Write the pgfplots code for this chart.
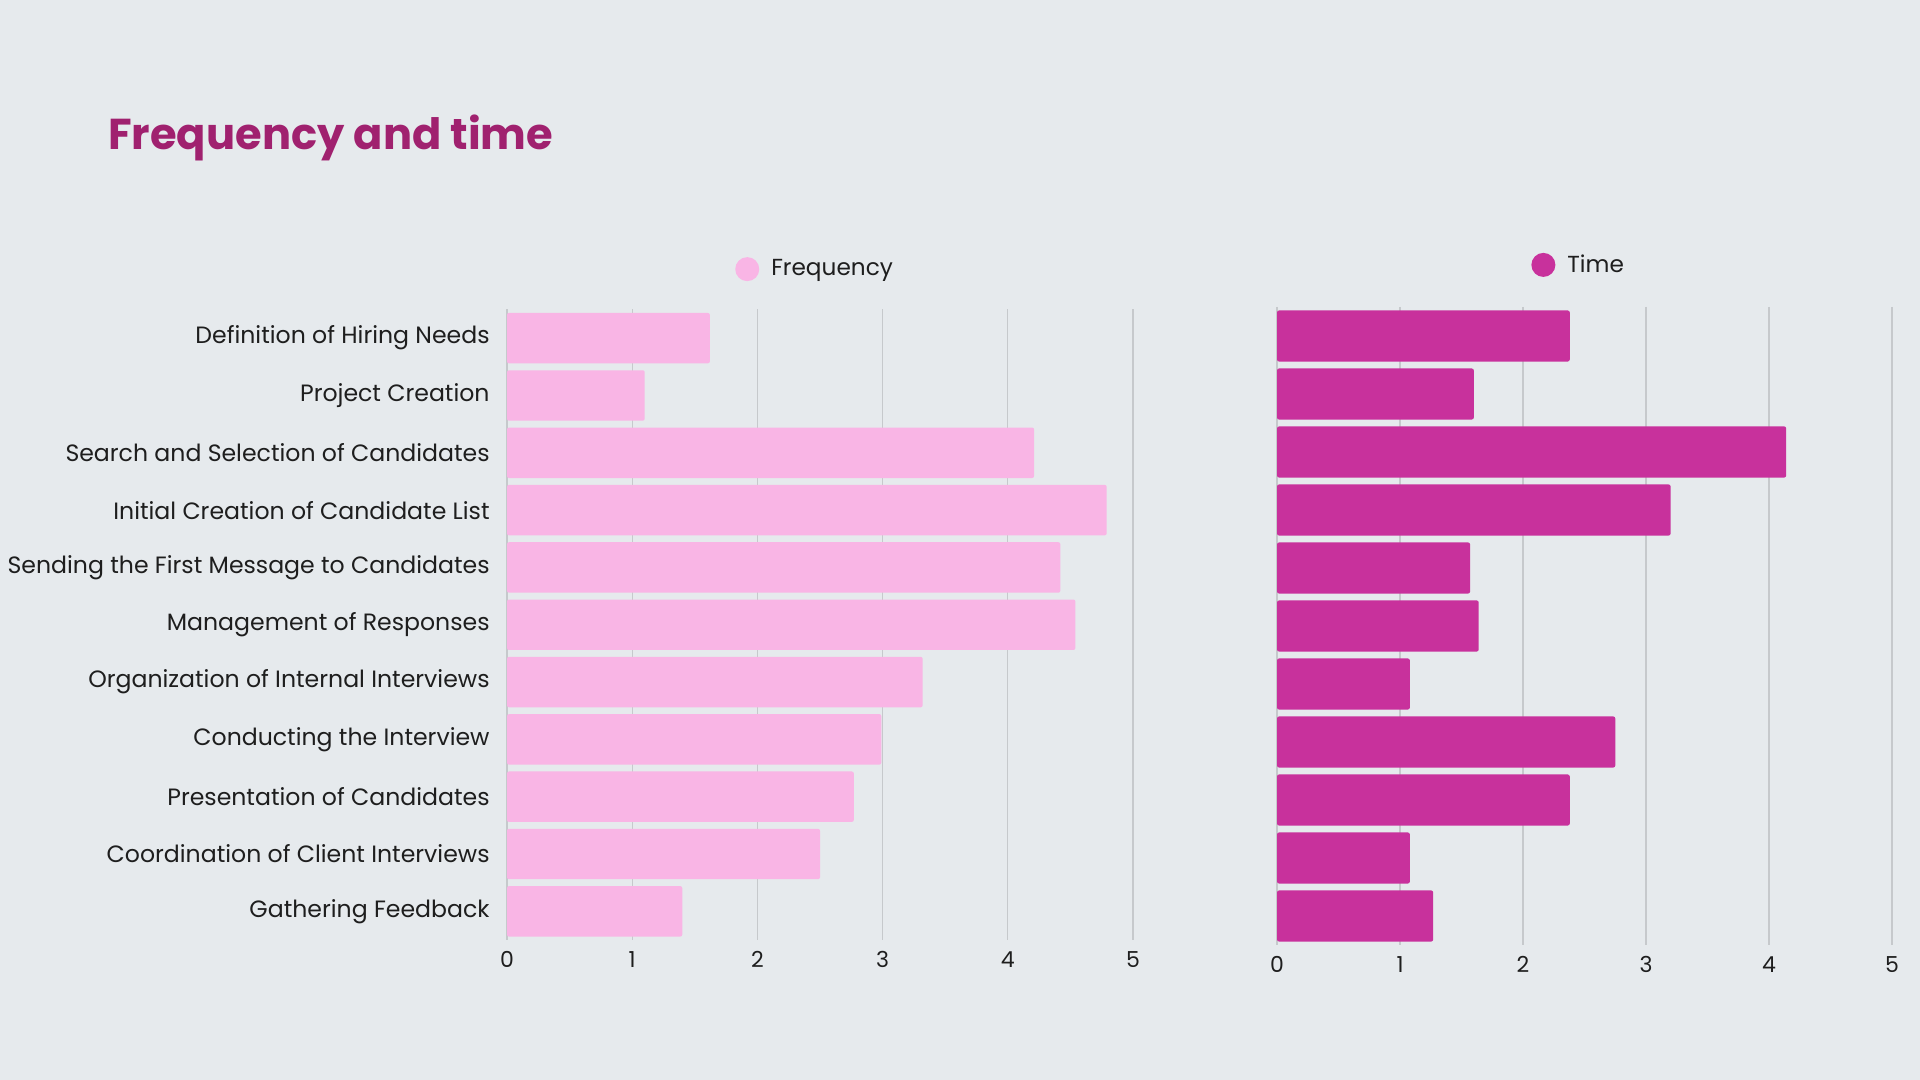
\documentclass[border=0pt]{standalone}
\usepackage{fontspec}
\setmainfont{Poppins}
\usepackage{pgfplots}
\pgfplotsset{compat=1.18}
\definecolor{bg}{HTML}{E6EAED}
\definecolor{freqpink}{HTML}{F9B5E5}
\definecolor{timemag}{HTML}{C8319C}
\definecolor{titlecol}{HTML}{A0216F}
\definecolor{txt}{HTML}{1E1E1E}
\definecolor{gridc}{HTML}{C6C9CC}

\pgfplotsset{
  hbars/.style={
    xbar,
    scale only axis,
    y dir=reverse,
    ymin=-0.5, ymax=10.5,
    xmin=0, xmax=5,
    xtick={0,...,5},
    ytick={0,...,10},
    bar width=0.88,
    axis line style={draw=none},
    major tick length=0,
    xmajorgrids,
    grid style={gridc, line width=0.6pt},
    tick label style={font=\fontsize{11}{13}\selectfont, text=txt},
    /pgf/number format/assume math mode=true,
    xticklabel style={anchor=base, yshift=-13.75pt},
    clip=false,
    legend style={draw=none, fill=none, inner sep=0pt, column sep=6pt,
      font=\fontsize{11.6}{14}\selectfont, text=txt, nodes={inner sep=0pt}},
    legend image code/.code={\fill[##1] (0pt,0pt) circle (6pt);},
    every axis plot/.append style={draw=none, rounded corners=1pt},
  }
}

\begin{document}
\begin{tikzpicture}
\fill[bg] (0,0) rectangle (960pt,540pt);
\node[anchor=base west, font=\bfseries\fontsize{21.6}{26}\selectfont, text=titlecol]
  at (50.6pt,465.3pt) {Frequency and time};

% frequency
\begin{axis}[hbars,
  at={(253.5pt,70pt)}, anchor=south west,
  width=313pt, height=315.25pt,
  yticklabel style={anchor=east, inner sep=0pt, xshift=-8.5pt,
    font=\fontsize{11.8}{14}\selectfont},
  yticklabels={Definition of Hiring Needs, Project Creation,
    Search and Selection of Candidates, Initial Creation of Candidate List,
    Sending the First Message to Candidates, Management of Responses,
    Organization of Internal Interviews, Conducting the Interview,
    Presentation of Candidates, Coordination of Client Interviews,
    Gathering Feedback},
  legend style={at={(0.364,1.064)}, anchor=west},
]
\addplot[fill=freqpink] coordinates {
  (1.62,0) (1.10,1) (4.21,2) (4.79,3) (4.42,4) (4.54,5)
  (3.32,6) (2.99,7) (2.77,8) (2.50,9) (1.40,10)};
\addlegendentry{Frequency}
\end{axis}

% time
\begin{axis}[hbars,
  at={(638.5pt,67.5pt)}, anchor=south west,
  width=307.5pt, height=319pt,
  yticklabels={},
  legend style={at={(0.413,1.066)}, anchor=west},
]
\addplot[fill=timemag] coordinates {
  (2.38,0) (1.60,1) (4.14,2) (3.20,3) (1.57,4) (1.64,5)
  (1.08,6) (2.75,7) (2.38,8) (1.08,9) (1.27,10)};
\addlegendentry{Time}
\end{axis}
\pgfresetboundingbox
\path (0,0) rectangle (960pt,540pt);
\end{tikzpicture}
\end{document}
